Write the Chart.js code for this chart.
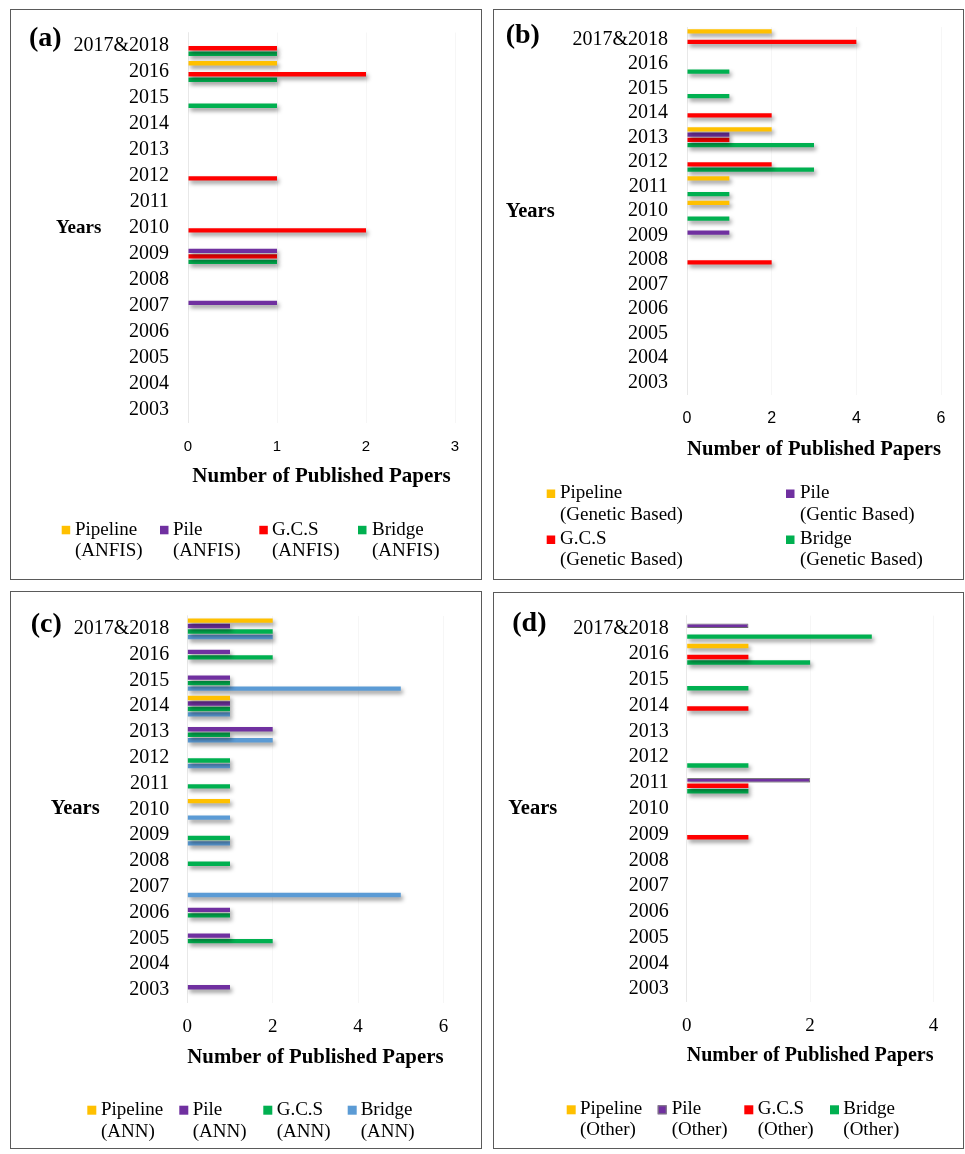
<!DOCTYPE html>
<html><head><meta charset="utf-8">
<script src="https://cdn.jsdelivr.net/npm/chart.js@4.4.0/dist/chart.umd.min.js"></script>
<style>
html,body{margin:0;padding:0;background:#fff;}
#page{position:relative;width:965px;height:1154px;background:#fff;overflow:hidden;}
.box{position:absolute;border:1px solid #5a5a5a;box-sizing:border-box;}
canvas{position:absolute;}
</style></head><body><div id="page"></div>
<script>
// ---------- DATA ----------
const years = ['2017&2018','2016','2015','2014','2013','2012','2011','2010','2009','2008','2007','2006','2005','2004','2003'];

// (a) ANFIS
const pipelineANFIS = [0,1,0,0,0,0,0,0,0,0,0,0,0,0,0];
const pileANFIS     = [0,0,0,0,0,0,0,0,1,0,1,0,0,0,0];
const gcsANFIS      = [1,2,0,0,0,1,0,2,1,0,0,0,0,0,0];
const bridgeANFIS   = [1,1,1,0,0,0,0,0,1,0,0,0,0,0,0];

// (b) Genetic Based
const pipelineGen = [2,0,0,0,2,0,1,1,0,0,0,0,0,0,0];
const pileGen     = [0,0,0,0,1,0,0,0,1,0,0,0,0,0,0];
const gcsGen      = [4,0,0,2,1,2,0,0,0,2,0,0,0,0,0];
const bridgeGen   = [0,1,1,0,3,3,1,1,0,0,0,0,0,0,0];

// (c) ANN
const pipelineANN = [2,0,0,1,0,0,0,1,0,0,0,0,0,0,0];
const pileANN     = [1,1,1,1,2,0,0,0,0,0,0,1,1,0,1];
const gcsANN      = [2,2,1,1,1,1,1,0,1,1,0,1,2,0,0];
const bridgeANN   = [2,0,5,1,2,1,0,1,1,0,5,0,0,0,0];

// (d) Other
const pipelineOther = [0,1,0,0,0,0,0,0,0,0,0,0,0,0,0];
const pileOther     = [1,0,0,0,0,0,2,0,0,0,0,0,0,0,0];
const gcsOther      = [0,1,0,1,0,0,1,0,1,0,0,0,0,0,0];
const bridgeOther   = [3,2,1,0,0,1,1,0,0,0,0,0,0,0,0];

// x-axis ticks
const ticksA = [0,1,2,3];
const ticksB = [0,2,4,6];
const ticksC = [0,2,4,6];
const ticksD = [0,2,4];

// legend texts
const legendA = [['Pipeline','(ANFIS)'],['Pile','(ANFIS)'],['G.C.S','(ANFIS)'],['Bridge','(ANFIS)']];
const legendB = [['Pipeline','(Genetic Based)'],['Pile','(Gentic Based)'],['G.C.S','(Genetic Based)'],['Bridge','(Genetic Based)']];
const legendC = [['Pipeline','(ANN)'],['Pile','(ANN)'],['G.C.S','(ANN)'],['Bridge','(ANN)']];
const legendD = [['Pipeline','(Other)'],['Pile','(Other)'],['G.C.S','(Other)'],['Bridge','(Other)']];

const xTitle = 'Number of Published Papers';
const yTitle = 'Years';

// ---------- STYLE ----------
const SERIF = "'Liberation Serif','Times New Roman',serif";
const SANS = "'Liberation Sans',Arial,sans-serif";
const YELLOW='#FFC000', PURPLE='#7030A0', RED='#FF0000', GREEN='#00B050', BLUE='#5B9BD5';

const shadowPlugin = {
  id:'barShadow',
  beforeDatasetsDraw(chart){ const c=chart.ctx; c.save(); c.shadowColor='rgba(0,0,0,0.42)'; c.shadowBlur=4; c.shadowOffsetX=2; c.shadowOffsetY=3; },
  afterDatasetsDraw(chart){ chart.ctx.restore(); }
};

const extrasPlugin = {
  id:'extras',
  afterDraw(chart, args, o){
    const ctx = chart.ctx, ox=o.ox, oy=o.oy;
    ctx.save();
    ctx.textBaseline='middle'; ctx.textAlign='left'; ctx.fillStyle='#000';
    ctx.font = 'bold 28px '+SERIF;
    ctx.fillText(o.letter, o.letterX-ox, o.letterY-oy);
    ctx.font = 'bold '+o.yearsSize+'px '+SERIF;
    ctx.fillText(yTitle, o.yearsX-ox, o.yearsY-oy);
    ctx.font = '19px '+SERIF;
    chart.data.datasets.forEach((ds,i)=>{
      const it = o.legend[i];
      ctx.fillStyle = ds.backgroundColor;
      ctx.fillRect(it.sx-ox, it.sy-oy, it.s, it.s);
      if (ds.borderWidth) { ctx.strokeStyle = ds.borderColor; ctx.lineWidth=1; ctx.strokeRect(it.sx-ox+0.5, it.sy-oy+0.5, it.s-1, it.s-1); }
      ctx.fillStyle = '#000';
      ctx.fillText(o.lines[i][0], it.tx-ox, it.l1-oy);
      ctx.fillText(o.lines[i][1], it.tx-ox, it.l2-oy);
    });
    ctx.restore();
  }
};

function mkLegendRow(sxs, sy, s, txs, l1, l2){
  return sxs.map((sx,i)=>({sx, sy, s, tx:txs[i], l1, l2}));
}

const panels = [
  { letter:'(a)', box:{x:10,y:9,w:472,h:571}, area:{l:188,r:455,t:32.5,b:422.7},
    ticks:ticksA, tickFont:{family:SANS,size:15}, tickPad:15, titleOff:54, yPad:19,
    series:[pipelineANFIS,pileANFIS,gcsANFIS,bridgeANFIS], colors:[YELLOW,PURPLE,RED,GREEN], lines:legendA,
    letterX:29, letterY:39, yearsX:56, yearsY:228, yearsSize:19,
    legend: mkLegendRow([61.7,160,259.3,358],525.8,8.5,[75,173,272,372],530,550.7) },
  { letter:'(b)', box:{x:493,y:9,w:471,h:571}, area:{l:687,r:941,t:27,b:394.5},
    ticks:ticksB, tickFont:{family:SANS,size:16}, tickPad:14, titleOff:55.5, yPad:19,
    series:[pipelineGen,pileGen,gcsGen,bridgeGen], colors:[YELLOW,PURPLE,RED,GREEN], lines:legendB,
    letterX:505.7, letterY:36, yearsX:505.7, yearsY:211.7, yearsSize:20.5,
    legend: [ {sx:546.7,sy:489.5,s:8.5,tx:560,l1:493.3,l2:515}, {sx:786,sy:489.5,s:8.5,tx:800,l1:493.3,l2:515},
              {sx:546.7,sy:535.5,s:8.5,tx:560,l1:539.3,l2:560}, {sx:786,sy:535.5,s:8.5,tx:800,l1:539.3,l2:560} ] },
  { letter:'(c)', box:{x:10,y:591,w:472,h:558}, area:{l:187.3,r:443.5,t:615.9,b:1002.9},
    ticks:ticksC, tickFont:{family:SERIF,size:19}, tickPad:12.5, titleOff:54.4, yPad:18,
    series:[pipelineANN,pileANN,gcsANN,bridgeANN], colors:[YELLOW,PURPLE,GREEN,BLUE], lines:legendC,
    letterX:30.7, letterY:625, yearsX:50.7, yearsY:808.3, yearsSize:20.5,
    legend: mkLegendRow([87.3,179.3,263.3,347.7],1105.7,9,[101,192.7,276.7,360.7],1110,1131.7) },
  { letter:'(d)', box:{x:493,y:592,w:471,h:557}, area:{l:686.7,r:933.5,t:615.6,b:1001.9},
    ticks:ticksD, tickFont:{family:SERIF,size:19}, tickPad:12.5, titleOff:54.1, yPad:18,
    series:[pipelineOther,pileOther,gcsOther,bridgeOther], colors:[YELLOW,PURPLE,RED,GREEN], lines:legendD,
    pileBorder:true,
    letterX:512.3, letterY:623.3, yearsX:508.3, yearsY:809, yearsSize:20.5,
    legend: mkLegendRow([566.7,657.7,744.3,830],1105.3,9,[580,671.7,757.7,843.3],1109,1130) }
];

const page = document.getElementById('page');
const WY = 120, HX = 72, TITLE_SIZE = 21;

function zeroPad(s){ s.paddingTop=0; s.paddingBottom=0; s.paddingLeft=0; s.paddingRight=0; }

panels.forEach(p=>{
  const b = p.box, a = p.area;
  const div = document.createElement('div'); div.className='box';
  Object.assign(div.style,{left:b.x+'px',top:b.y+'px',width:b.w+'px',height:b.h+'px'});
  page.appendChild(div);
  const cv = document.createElement('canvas');
  cv.width=b.w; cv.height=b.h;
  Object.assign(cv.style,{left:b.x+'px',top:b.y+'px',width:b.w+'px',height:b.h+'px'});
  page.appendChild(cv);

  const pad = { left: a.l-b.x-WY, top: a.t-b.y, right: b.x+b.w-a.r, bottom: b.y+b.h-a.b-HX };
  const titlePB = HX - p.titleOff - TITLE_SIZE*1.2/2;
  const maxV = p.ticks[p.ticks.length-1];
  const step = p.ticks[1]-p.ticks[0];

  const datasets = p.series.map((d,i)=>({
    label: p.lines[i].join(' '),
    data: d,
    backgroundColor: p.colors[i],
    borderColor: (p.pileBorder && i===1) ? '#7f7f7f' : p.colors[i],
    borderWidth: (p.pileBorder && i===1) ? 1 : 0,
    barPercentage: 0.8,
    categoryPercentage: 0.85
  }));

  new Chart(cv.getContext('2d'), {
    type:'bar',
    data:{ labels: years, datasets },
    plugins:[shadowPlugin, extrasPlugin],
    options:{
      indexAxis:'y', responsive:false, maintainAspectRatio:false, animation:false, devicePixelRatio:1,
      layout:{ padding: pad },
      plugins:{ legend:{display:false}, tooltip:{enabled:false},
        extras:{ ox:b.x, oy:b.y, letter:p.letter, letterX:p.letterX, letterY:p.letterY,
                 yearsX:p.yearsX, yearsY:p.yearsY, yearsSize:p.yearsSize, legend:p.legend, lines:p.lines } },
      scales:{
        x:{ type:'linear', min:0, max:maxV, position:'bottom',
            afterFit(s){ s.height = HX; zeroPad(s); },
            afterBuildTicks(s){ s.ticks = p.ticks.map(v=>({value:v})); },
            ticks:{ stepSize:step, padding:p.tickPad, color:'#000', font:p.tickFont },
            grid:{ display:true, drawTicks:false, color:'rgba(0,0,0,0.035)' },
            border:{ display:false },
            title:{ display:true, text:xTitle, color:'#000', font:{family:SERIF,size:TITLE_SIZE,weight:'bold'},
                    padding:{top:0,bottom:titlePB} } },
        y:{ type:'category', position:'left',
            afterFit(s){ s.width = WY; zeroPad(s); },
            ticks:{ padding:p.yPad, color:'#000', font:{family:SERIF,size:20}, autoSkip:false },
            grid:{ display:false, drawTicks:false },
            border:{ display:true, color:'rgba(0,0,0,0.06)', width:1 } }
      }
    }
  });
});
</script></body></html>
